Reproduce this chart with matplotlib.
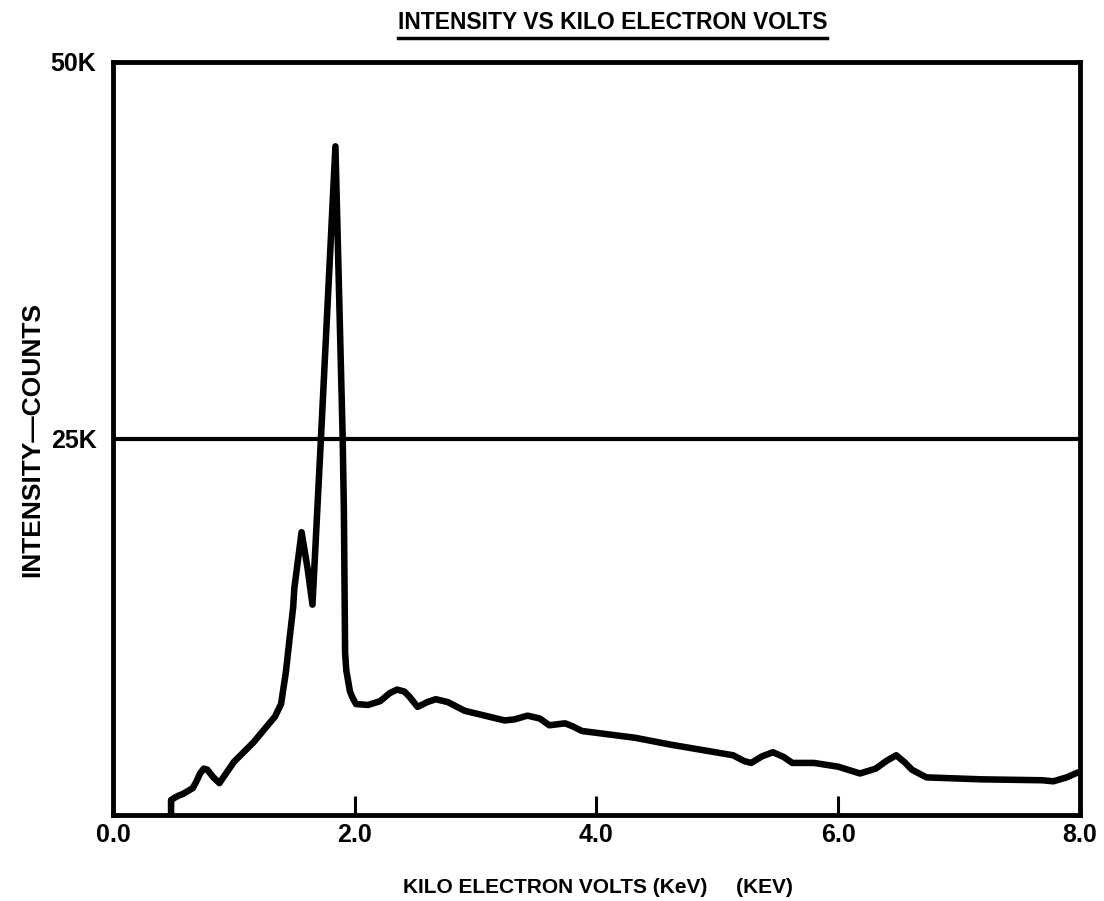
import numpy as np
import matplotlib
matplotlib.use("Agg")
import matplotlib.pyplot as plt
from matplotlib.lines import Line2D

# spectre (keV, milliers de coups)
kev = [0.48, 0.48, 0.51, 0.54, 0.58, 0.66, 0.69, 0.72, 0.75, 0.78,
       0.83, 0.88, 1.00, 1.16, 1.34, 1.39, 1.43, 1.46, 1.49, 1.50,
       1.56, 1.61, 1.65, 1.72, 1.84, 1.90, 1.91, 1.92, 1.93, 1.96,
       1.98, 2.01, 2.11, 2.21, 2.29, 2.35, 2.41, 2.45, 2.52, 2.60,
       2.67, 2.77, 2.91, 3.04, 3.24, 3.32, 3.43, 3.53, 3.61, 3.74,
       3.80, 3.88, 4.32, 4.61, 5.13, 5.22, 5.28, 5.37, 5.46, 5.55,
       5.62, 5.80, 6.00, 6.18, 6.31, 6.40, 6.48, 6.55, 6.61, 6.73,
       7.19, 7.69, 7.78, 7.89, 7.98]
counts_k = [0.0, 1.0, 1.15, 1.28, 1.41, 1.79, 2.24, 2.76, 3.08, 3.01,
            2.5, 2.12, 3.53, 4.81, 6.54, 7.37, 9.49, 11.67, 13.78, 15.06,
            18.78, 16.35, 13.97, 25.0, 44.4, 25.0, 20.19, 10.77, 9.6, 8.21,
            7.82, 7.37, 7.31, 7.56, 8.1, 8.33, 8.2, 7.88, 7.18, 7.5,
            7.69, 7.5, 6.92, 6.67, 6.28, 6.35, 6.6, 6.41, 5.96, 6.09,
            5.90, 5.58, 5.13, 4.68, 3.97, 3.59, 3.46, 3.9, 4.17, 3.85,
            3.46, 3.46, 3.21, 2.76, 3.08, 3.6, 3.97, 3.5, 3.01, 2.5,
            2.37, 2.31, 2.24, 2.5, 2.82]

xticks = [0, 2, 4, 6, 8]
xlabels = ["0.0", "2.0", "4.0", "6.0", "8.0"]
yticks = [25, 50]
ylabels = ["25K", "50K"]

plt.rcParams['font.family'] = ['Liberation Sans', 'DejaVu Sans']
plt.rcParams['font.weight'] = 'bold'

fig = plt.figure(figsize=(11.04, 9.01), dpi=100)
ax = fig.add_axes([0.1024, 0.0954, 0.8758, 0.8358])

ax.plot(kev, counts_k, color='black', lw=4.7, solid_joinstyle='round', solid_capstyle='round')
ax.axhline(25, color='black', lw=3)

ax.set_xlim(0, 8)
ax.set_ylim(0, 50)
ax.set_xticks(xticks)
ax.set_xticklabels(xlabels, fontsize=18, fontweight='bold')
ax.set_yticks(yticks)
ax.set_yticklabels(ylabels, fontsize=18, fontweight='bold')
ax.tick_params(axis='x', direction='in', length=14, width=2.2, pad=6)
ax.tick_params(axis='y', length=0, pad=12)
for s in ax.spines.values():
    s.set_linewidth(3.5)
    s.set_color('black')

fig.text(0.542, 0.004, "KILO ELECTRON VOLTS (KeV)     (KEV)", fontsize=15,
         fontweight='bold', ha='center', va='bottom')
fig.text(0.029, 0.512, "INTENSITY\u2014COUNTS", fontsize=19, fontweight='bold',
         rotation=90, ha='center', va='center')

t = fig.text(0.555, 0.975, "INTENSITY VS KILO ELECTRON VOLTS", fontsize=16.5,
             fontweight='bold', ha='center', va='center')

fig.canvas.draw()
bb = t.get_window_extent().transformed(fig.transFigure.inverted())
fig.add_artist(Line2D([bb.x0, bb.x1], [bb.y0 - 0.004, bb.y0 - 0.004],
                      color='black', lw=2.5, transform=fig.transFigure))

plt.savefig("out.png", dpi=100)
